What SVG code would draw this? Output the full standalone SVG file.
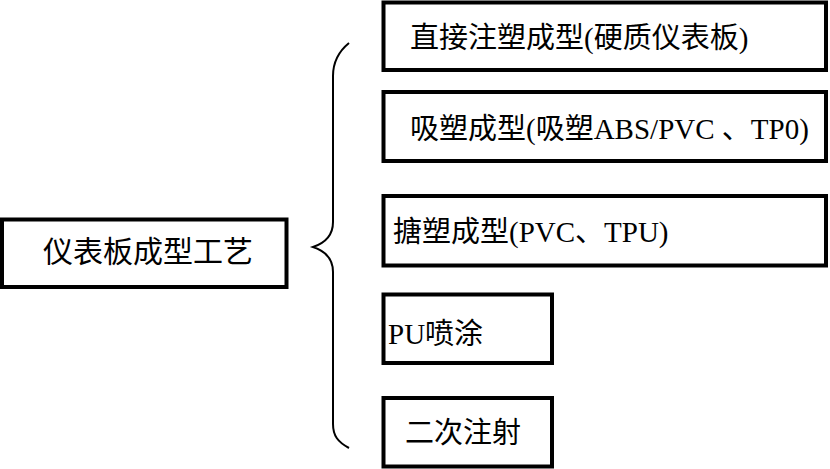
<svg xmlns="http://www.w3.org/2000/svg" width="830" height="469" viewBox="0 0 830 469">
<style>
.box{fill:#fff;stroke:#000;stroke-width:4}
.t{font-family:"Liberation Serif","Noto Sans CJK SC",serif;font-size:29px;fill:#000}
.brace{fill:none;stroke:#000;stroke-width:2}
</style>
<rect width="830" height="469" fill="#fff"/>
<g id="connectors">
<path class="brace" d="M349,43 C338,52 333,62 333,76 L333,222 C333,236 325,243 313,247 C325,251 333,258 333,272 L333,424 C333,436 338,442 349,448"/>
</g>
<g id="root">
<rect class="box" x="2" y="219.5" width="284.5" height="67.5"/>
<text class="t" x="43" y="262" style="font-size:30px">仪表板成型工艺</text>
</g>
<g id="n1">
<rect class="box" x="383.5" y="2.5" width="442.5" height="67.5"/>
<text class="t" x="410" y="48">直接注塑成型(硬质仪表板)</text>
</g>
<g id="n2">
<rect class="box" x="383.5" y="92" width="442.5" height="69"/>
<text class="t" x="410" y="139">吸塑成型(吸塑ABS/PVC 、TP0)</text>
</g>
<g id="n3">
<rect class="box" x="383.5" y="196" width="442.5" height="69.5"/>
<text class="t" x="393" y="242">搪塑成型(PVC、TPU)</text>
</g>
<g id="n4">
<rect class="box" x="383.5" y="294.5" width="168.5" height="68.5"/>
<text class="t" x="388" y="344">PU喷涂</text>
</g>
<g id="n5">
<rect class="box" x="383.5" y="398" width="168.5" height="68.5"/>
<text class="t" x="405" y="443">二次注射</text>
</g>
</svg>
